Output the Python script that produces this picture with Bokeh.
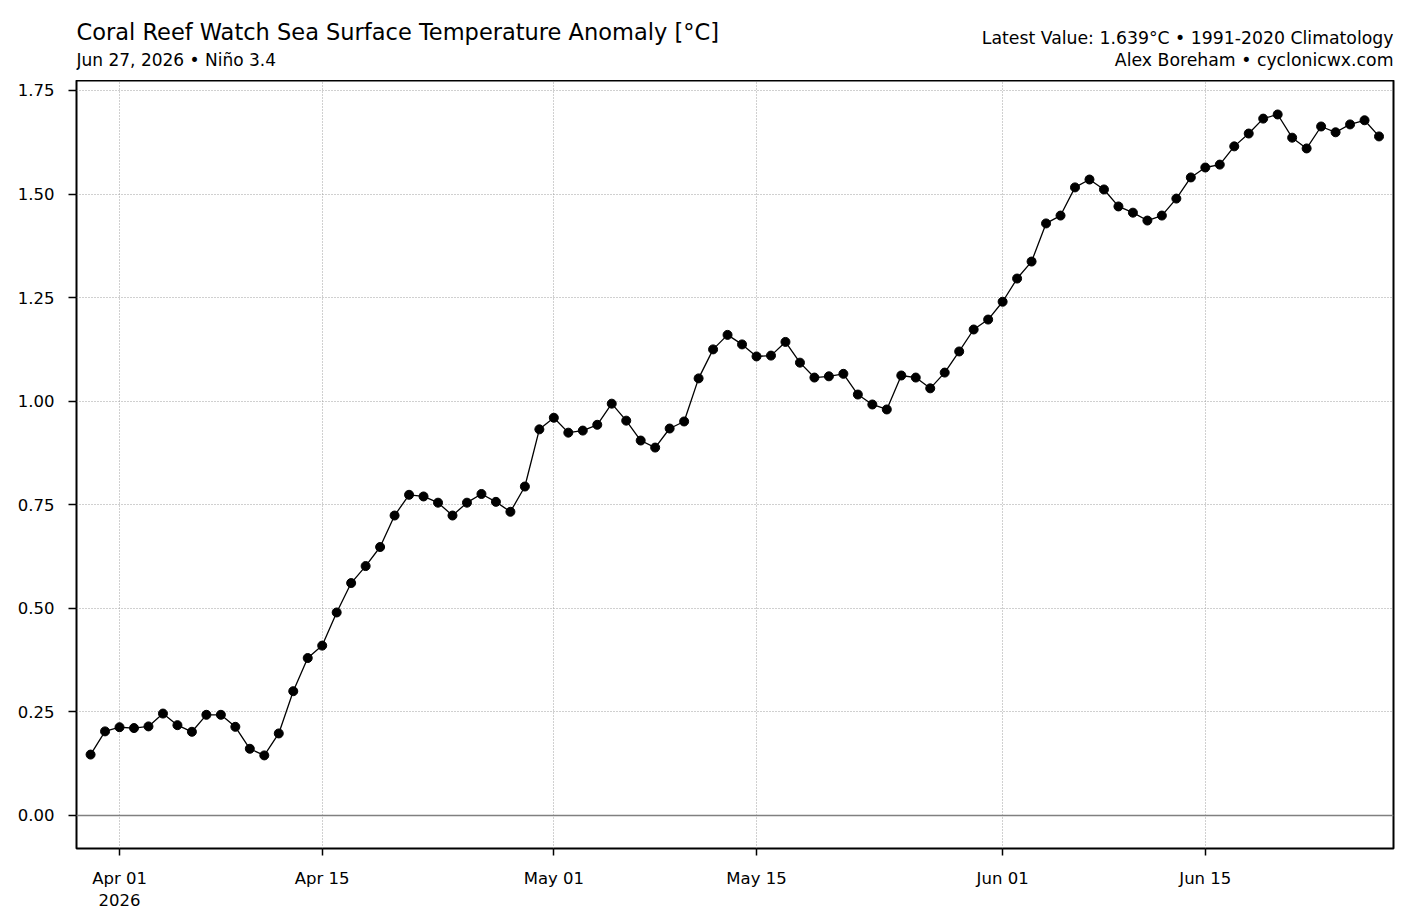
import numpy as np
import pandas as pd
from bokeh.plotting import figure
from bokeh.layouts import column
from bokeh.models import (Span, FixedTicker, CustomJSTickFormatter,
                          NumeralTickFormatter, Range1d, ColumnDataSource)
from bokeh.core.properties import value
from bokeh.embed import file_html
from bokeh.resources import INLINE

# ---- data ----
start_date = "2026-03-30"
anomaly = [
    0.147, 0.203, 0.213, 0.211, 0.215, 0.246, 0.218, 0.202, 0.243, 0.243,
    0.214, 0.161, 0.145, 0.198, 0.300, 0.380, 0.410, 0.490, 0.561, 0.602,
    0.648, 0.724, 0.774, 0.770, 0.755, 0.724, 0.755, 0.776, 0.757, 0.733,
    0.794, 0.932, 0.960, 0.924, 0.929, 0.943, 0.994, 0.953, 0.905, 0.888,
    0.934, 0.951, 1.055, 1.125, 1.160, 1.137, 1.108, 1.110, 1.143, 1.093,
    1.057, 1.060, 1.066, 1.016, 0.992, 0.980, 1.062, 1.057, 1.031, 1.069,
    1.120, 1.173, 1.197, 1.240, 1.296, 1.337, 1.429, 1.448, 1.516, 1.535,
    1.511, 1.470, 1.455, 1.436, 1.448, 1.489, 1.540, 1.564, 1.571, 1.615,
    1.646, 1.682, 1.692, 1.636, 1.610, 1.663, 1.649, 1.668, 1.678, 1.639,
]
dates = pd.date_range(start_date, periods=len(anomaly), freq="D")
tick_dates = ["2026-04-01", "2026-04-15", "2026-05-01", "2026-05-15", "2026-06-01", "2026-06-15"]
y_ticks = [0.0, 0.25, 0.5, 0.75, 1.0, 1.25, 1.5, 1.75]

title_text = "Coral Reef Watch Sea Surface Temperature Anomaly [°C]"
subtitle_text = "Jun 27, 2026 • Niño 3.4"
right_line1 = "Latest Value: 1.639°C • 1991-2020 Climatology"
right_line2 = "Alex Boreham • cyclonicwx.com"

FONT = "DejaVu Sans"
W = 1417

# ---- header strip (pixel coordinates, y downwards; frame aligned with main plot) ----
head = figure(width=W, height=80, output_backend="svg", toolbar_location=None,
              x_range=Range1d(76, 1393), y_range=Range1d(80, 0),
              min_border_left=76, min_border_right=24,
              min_border_top=0, min_border_bottom=0)
head.axis.visible = False
head.grid.visible = False
head.outline_line_color = None
head.background_fill_color = "white"
head.border_fill_color = "white"

hsrc = ColumnDataSource(dict(
    x=[76, 76, 1393, 1393],
    y=[31, 59, 37, 59],
    text=[title_text, subtitle_text, right_line1, right_line2],
    size=["22.5px", "17px", "17.3px", "17.3px"],
    align=["left", "left", "right", "right"],
))
head.text("x", "y", text="text", source=hsrc, text_font=value(FONT),
          text_font_size="size", text_align="align", text_baseline="alphabetic",
          text_color="black")

# ---- main plot ----
src = ColumnDataSource(dict(x=dates, y=anomaly))

x_start = pd.Timestamp("2026-03-29 00:40")
x_end = pd.Timestamp("2026-06-28 00:00")

p = figure(width=W, height=836, output_backend="svg", toolbar_location=None,
           x_axis_type="datetime",
           x_range=Range1d(x_start, x_end), y_range=Range1d(-0.0797, 1.774),
           min_border_left=76, min_border_right=24, min_border_top=0, min_border_bottom=68)

p.background_fill_color = "white"
p.border_fill_color = "white"
p.outline_line_color = "black"
p.outline_line_width = 2

for g in (p.xgrid, p.ygrid):
    g.grid_line_color = "#a0a0a0"
    g.grid_line_dash = "1 2"
    g.grid_line_width = 1

p.add_layout(Span(location=0, dimension="width", line_color="#808080", line_width=1.5))

p.line("x", "y", source=src, line_color="black", line_width=1.3)
p.scatter("x", "y", source=src, size=9, fill_color="black", line_color="black")

tick_ms = [pd.Timestamp(d).value / 1e6 for d in tick_dates]
p.xaxis.ticker = FixedTicker(ticks=tick_ms)
p.xaxis.formatter = CustomJSTickFormatter(code="""
const m = ["Jan","Feb","Mar","Apr","May","Jun","Jul","Aug","Sep","Oct","Nov","Dec"];
const d = new Date(tick);
const dd = String(d.getUTCDate()).padStart(2, "0");
let s = m[d.getUTCMonth()] + " " + dd;
if (index == 0) { s = s + "\\n" + d.getUTCFullYear(); }
return s;
""")
p.yaxis.ticker = FixedTicker(ticks=y_ticks)
p.yaxis.formatter = NumeralTickFormatter(format="0.00")

for ax in (p.xaxis, p.yaxis):
    ax.axis_line_color = None
    ax.major_tick_line_color = "black"
    ax.major_tick_line_width = 1.5
    ax.major_tick_in = 0
    ax.minor_tick_line_color = None
    ax.major_label_text_font = FONT
    ax.major_label_text_color = "black"
p.xaxis.major_label_text_font_size = "16.5px"
p.yaxis.major_label_text_font_size = "16.5px"
p.xaxis.major_tick_out = 7
p.xaxis.major_label_standoff = 13
p.yaxis.major_tick_out = 8
p.yaxis.major_label_standoff = 14

layout = column(head, p, spacing=0)
open("out.html", "w").write(file_html(layout, INLINE))
